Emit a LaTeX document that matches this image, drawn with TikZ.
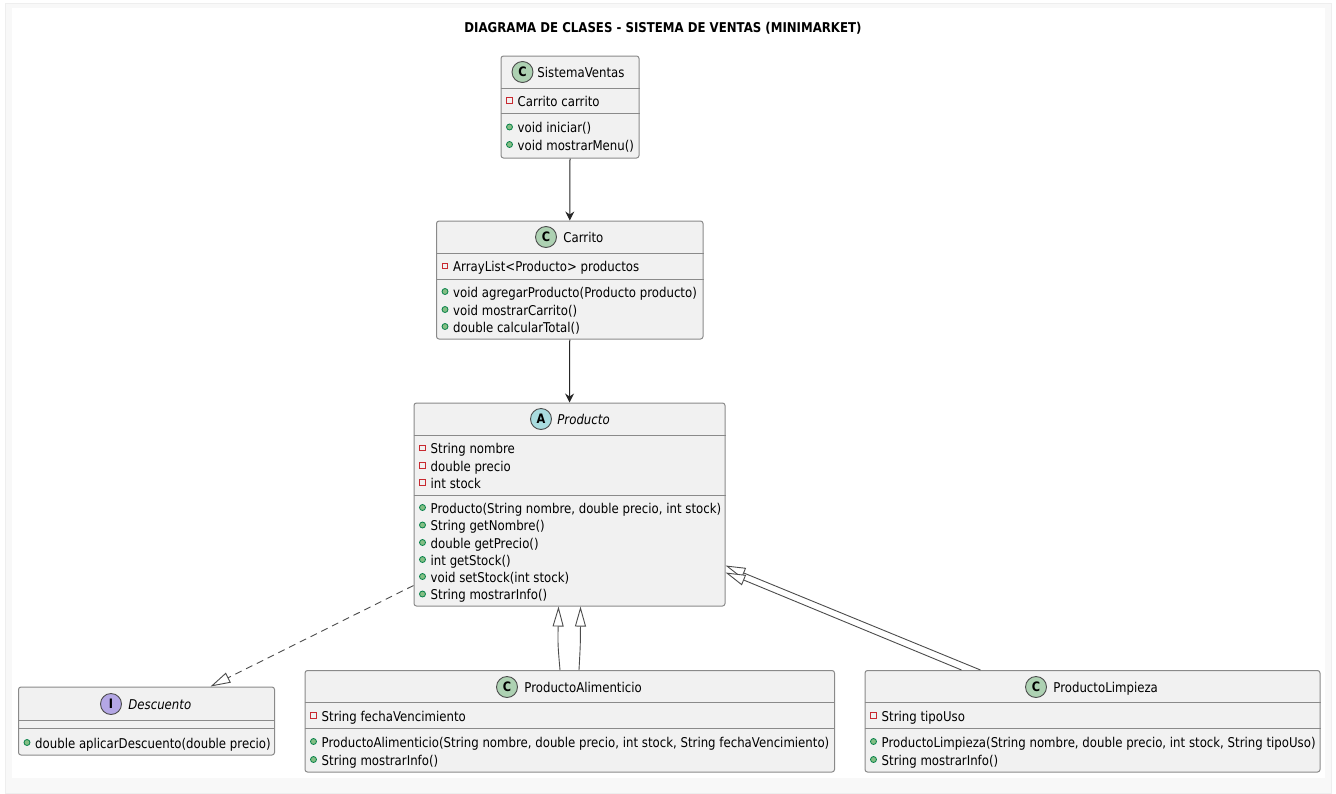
\documentclass[tikz,border=0pt]{standalone}
\usepackage{fontspec}
\setmainfont{DejaVu Sans}[FakeStretch=0.871]
\usetikzlibrary{arrows.meta,calc}

\definecolor{pagegray}{HTML}{F8F8F8}
\definecolor{pageline}{HTML}{EEEEEE}
\definecolor{boxfill}{HTML}{F1F1F1}
\definecolor{boxline}{HTML}{8A8A8A}
\definecolor{iconC}{HTML}{ADD1B2}
\definecolor{iconA}{HTML}{A9DCDF}
\definecolor{iconI}{HTML}{B4A7E5}
\definecolor{pubfill}{HTML}{84BE84}
\definecolor{publine}{HTML}{038048}
\definecolor{privline}{HTML}{C82930}

\tikzset{
  classbox/.style={draw=boxline, fill=boxfill, line width=1pt, rounded corners=2.5pt, inner sep=0pt, anchor=north west},
  divider/.style={draw=boxline, line width=1pt},
  classicon/.style={circle, draw=black!70, line width=0.9pt, minimum size=21pt, inner sep=0pt, xshift=0.5pt, yshift=-0.5pt, font=\fontsize{13}{13}\selectfont\bfseries},
  classtitle/.style={anchor=base west, inner sep=0pt, xshift=0.7pt, yshift=-5.5pt, font=\fontsize{13.5}{16}\selectfont},
  memberlabel/.style={anchor=base west, inner sep=0pt, xshift=0.5pt, yshift=-5.5pt, font=\fontsize{13.5}{16}\selectfont},
  privmark/.style={rectangle, draw=privline, fill=boxfill, line width=0.8pt, minimum size=5.5pt, inner sep=0pt},
  pubmark/.style={circle, draw=publine, fill=pubfill, line width=0.8pt, minimum size=6pt, inner sep=0pt},
  assoc/.style={draw=black!85, line width=1pt, -{Stealth[inset=3pt,length=9pt,width=9pt]}},
  inherit/.style={draw=black!70, line width=0.9pt, -{Triangle[open,fill=white,length=20pt,width=11pt]}},
}

% one row per member: y / mark style / text
\newcommand{\classrows}[3]{%
  \foreach \yy/\mk/\txt in {#3} {
    \node[\mk] (#1mark\yy) at (#2,\yy) {};
    \node[memberlabel] (#1row\yy) at (#2+7.5,\yy) {\txt};
  }%
}

\begin{document}
\begin{tikzpicture}[x=1pt,y=-1pt]
  % Page
  \useasboundingbox (0,0) rectangle (1336,793);
  \path[fill=white] (0,0) rectangle (1336,793);
  \path[fill=pagegray, draw=pageline] (5,3) -- (1331,3) -- (1331,793) -- (5,793) -- cycle;
  \path[fill=white] (12,8) rectangle (1325,778);

  % Title
  \node[font=\fontsize{13.5}{16}\selectfont\bfseries, inner sep=0pt] (titulo) at (663,28.5) {DIAGRAMA DE CLASES - SISTEMA DE VENTAS (MINIMARKET)};

  \begin{scope}[shift={(-0.5,-0.5)}]
  % === SistemaVentas ===
  \node[classbox, minimum width=138pt, minimum height=102pt] (sistemaVentas) at (501,56) {};
  \draw[divider] (sistemaVentas.west |- 0,89) -- (sistemaVentas.east |- 0,89);
  \draw[divider] (sistemaVentas.west |- 0,114) -- (sistemaVentas.east |- 0,114);
  \node[classicon, fill=iconC] (sistemaIcon) at (522.5,72) {C};
  \node[classtitle] (sistemaName) at (537,72) {SistemaVentas};
  \classrows{sv}{510}{101/privmark/{Carrito carrito}, 127.5/pubmark/{void iniciar()}, 145/pubmark/{void mostrarMenu()}}

  % === Carrito ===
  \node[classbox, minimum width=266.5pt, minimum height=118pt] (carrito) at (436.5,221) {};
  \draw[divider] (carrito.west |- 0,254) -- (carrito.east |- 0,254);
  \draw[divider] (carrito.west |- 0,279.5) -- (carrito.east |- 0,279.5);
  \node[classicon, fill=iconC] (carritoIcon) at (546,237) {C};
  \node[classtitle] (carritoName) at (563,237) {Carrito};
  \classrows{ca}{445.5}{266.5/privmark/{ArrayList<Producto> productos}, 292/pubmark/{void agregarProducto(Producto producto)}, 310/pubmark/{void mostrarCarrito()}, 327/pubmark/{double calcularTotal()}}

  % === Producto ===
  \node[classbox, minimum width=311pt, minimum height=203pt] (producto) at (414,403) {};
  \draw[divider] (producto.west |- 0,436) -- (producto.east |- 0,436);
  \draw[divider] (producto.west |- 0,495.5) -- (producto.east |- 0,495.5);
  \node[classicon, fill=iconA] (productoIcon) at (541,419) {A};
  \node[classtitle] (productoName) at (557,419) {\itshape Producto};
  \classrows{pr}{423}{448.5/privmark/{String nombre}, 466/privmark/{double precio}, 483/privmark/{int stock}, 508/pubmark/{Producto(String nombre, double precio, int stock)}, 525.5/pubmark/{String getNombre()}, 543/pubmark/{double getPrecio()}, 560/pubmark/{int getStock()}, 577/pubmark/{void setStock(int stock)}, 594.5/pubmark/{String mostrarInfo()}}

  % === Descuento ===
  \node[classbox, minimum width=256pt, minimum height=68pt] (descuento) at (18.5,687) {};
  \draw[divider] (descuento.west |- 0,720.5) -- (descuento.east |- 0,720.5);
  \draw[divider] (descuento.west |- 0,729) -- (descuento.east |- 0,729);
  \node[classicon, fill=iconI] (descuentoIcon) at (111,704) {I};
  \node[classtitle] (descuentoName) at (128,704) {\itshape Descuento};
  \classrows{de}{27.5}{743/pubmark/{double aplicarDescuento(double precio)}}

  % === ProductoAlimenticio ===
  \node[classbox, minimum width=529.5pt, minimum height=101.5pt] (alimenticio) at (305,670.5) {};
  \draw[divider] (alimenticio.west |- 0,703) -- (alimenticio.east |- 0,703);
  \draw[divider] (alimenticio.west |- 0,729) -- (alimenticio.east |- 0,729);
  \node[classicon, fill=iconC] (alimenticioIcon) at (507,687) {C};
  \node[classtitle] (alimenticioName) at (524,687) {ProductoAlimenticio};
  \classrows{al}{314}{716/privmark/{String fechaVencimiento}, 742/pubmark/{ProductoAlimenticio(String nombre, double precio, int stock, String fechaVencimiento)}, 760/pubmark/{String mostrarInfo()}}

  % === ProductoLimpieza ===
  \node[classbox, minimum width=455pt, minimum height=101.5pt] (limpieza) at (865,670.5) {};
  \draw[divider] (limpieza.west |- 0,703) -- (limpieza.east |- 0,703);
  \draw[divider] (limpieza.west |- 0,729) -- (limpieza.east |- 0,729);
  \node[classicon, fill=iconC] (limpiezaIcon) at (1036,687) {C};
  \node[classtitle] (limpiezaName) at (1053,687) {ProductoLimpieza};
  \classrows{li}{874}{716/privmark/{String tipoUso}, 742/pubmark/{ProductoLimpieza(String nombre, double precio, int stock, String tipoUso)}, 760/pubmark/{String mostrarInfo()}}

  % Associations
  \draw[assoc] (sistemaVentas.south) -- (carrito.north);
  \draw[assoc] (carrito.south) -- (producto.north);

  % Realization
  \coordinate (descuentoTip) at ($(descuento.north west)+(192.5,0)$);
  \coordinate (productoLeft) at ($(producto.south west)+(0,-21)$);
  \draw[inherit, dash pattern=on 7pt off 5pt] (productoLeft) -- (descuentoTip);

  % Inheritance (double lines)
  \coordinate (alimTipA) at ($(producto.south west)+(145,0)$);
  \coordinate (alimTipB) at ($(producto.south west)+(167,0)$);
  \coordinate (alimFromA) at ($(alimenticio.north west)+(255.5,0)$);
  \coordinate (alimFromB) at ($(alimenticio.north west)+(274.5,0)$);
  \draw[inherit] (alimFromA) .. controls (558.3,645) .. (alimTipA);
  \draw[inherit] (alimFromB) .. controls (580.9,645) .. (alimTipB);

  \coordinate (limpTipA) at ($(producto.south east)+(0,-41)$);
  \coordinate (limpTipB) at ($(producto.south east)+(0,-34)$);
  \coordinate (limpFromA) at ($(limpieza.north west)+(116,0)$);
  \coordinate (limpFromB) at ($(limpieza.north west)+(97,0)$);
  \draw[inherit] (limpFromA) -- (limpTipA);
  \draw[inherit] (limpFromB) -- (limpTipB);
  \end{scope}
\end{tikzpicture}
\end{document}
